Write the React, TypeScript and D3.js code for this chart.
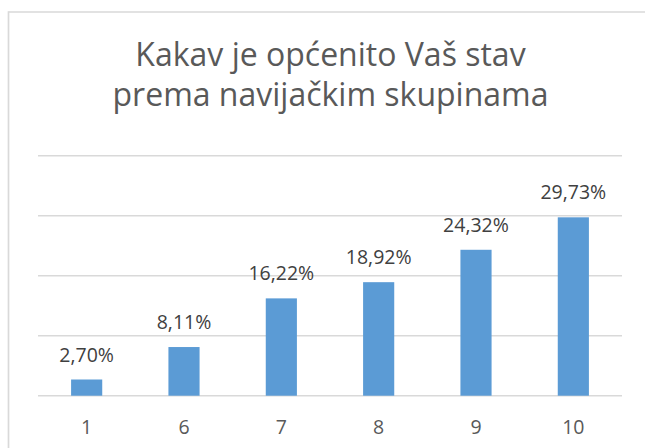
import React from "react";
import * as d3 from "d3";

const categories: string[] = ["1", "6", "7", "8", "9", "10"];
const values: number[] = [2.7, 8.11, 16.22, 18.92, 24.32, 29.73];
const valueLabels: string[] = ["2,70%", "8,11%", "16,22%", "18,92%", "24,32%", "29,73%"];
const gridTicks: number[] = [0, 10, 20, 30, 40];
const titleLines: string[] = ["Kakav je općenito Vaš stav", "prema navijačkim skupinama"];

const W = 645;
const H = 448;
const FONT = "'Open Sans', sans-serif";

export default function App() {
  const x = d3
    .scaleBand<string>()
    .domain(categories)
    .range([38, 622])
    .paddingInner(0.68)
    .paddingOuter(0.34);
  const y = d3.scaleLinear().domain([0, 40]).range([395.7, 155.7]);

  return (
    <svg
      width={W}
      height={H}
      style={{ position: "absolute", left: 0, top: 0, display: "block", background: "#fff" }}
    >
      <line x1={8.5} x2={W} y1={12} y2={12} stroke="#D9D9D9" strokeWidth={1.7} />
      <line x1={8.5} x2={8.5} y1={11.2} y2={H} stroke="#D9D9D9" strokeWidth={1.7} />
      {titleLines.map((t, i) => (
        <text
          key={i}
          x={330.5}
          y={66 + i * 40}
          textAnchor="middle"
          fontFamily={FONT}
          fontSize={32}
          fill="#595959"
        >
          {t}
        </text>
      ))}
      {gridTicks.map((t) => (
        <line
          key={t}
          x1={38}
          x2={622}
          y1={y(t)}
          y2={y(t)}
          stroke="#D9D9D9"
          strokeWidth={1.4}
        />
      ))}
      {categories.map((c, i) => (
        <g key={c}>
          <rect
            x={x(c)!}
            y={y(values[i])}
            width={x.bandwidth()}
            height={y(0) - y(values[i])}
            fill="#5B9BD5"
          />
          <text
            x={x(c)! + x.bandwidth() / 2}
            y={y(values[i]) - 18}
            textAnchor="middle"
            fontFamily={FONT}
            fontSize={19.5}
            fill="#404040"
          >
            {valueLabels[i]}
          </text>
          <text
            x={x(c)! + x.bandwidth() / 2}
            y={434}
            textAnchor="middle"
            fontFamily={FONT}
            fontSize={19.5}
            fill="#595959"
          >
            {c}
          </text>
        </g>
      ))}
    </svg>
  );
}
